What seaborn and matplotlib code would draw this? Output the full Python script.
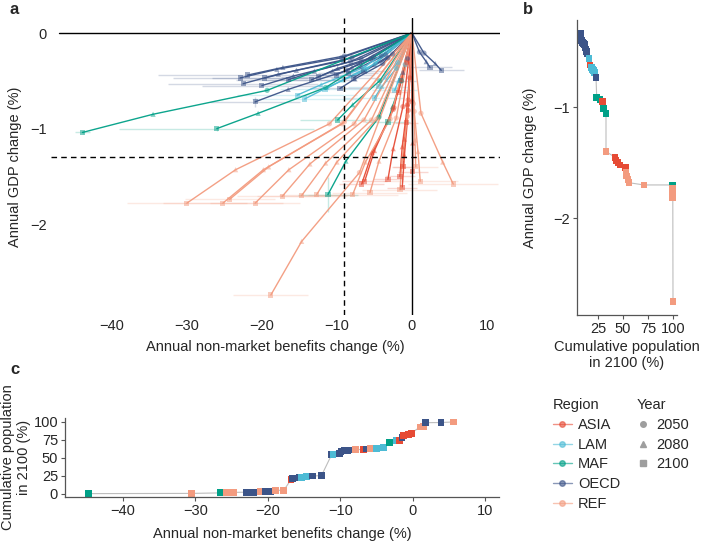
import numpy as np
import pandas as pd
import matplotlib
matplotlib.use('Agg')
import matplotlib.pyplot as plt
import seaborn as sns
from matplotlib.lines import Line2D

sns.set_style('white')
plt.rcParams['font.family'] = ['Liberation Sans', 'DejaVu Sans']
plt.rcParams['font.size'] = 10.5

regions = ['ASIA', 'LAM', 'MAF', 'OECD', 'REF']
colors = ['#E64B35', '#4DBBD5', '#00A087', '#3C5488', '#F39B7F']
palette = dict(zip(regions, colors))
years = [2050, 2080, 2100]

# ---- panel a: trajectories (start at 0,0 then 2050, 2080, 2100) ----
a_region = (['OECD'] * 17 + ['LAM'] * 6 + ['MAF'] * 5 + ['ASIA'] * 9 + ['REF'] * 14)
a_x2050 = [-9.0, -9.2, -8.2, -8.6, -8.0, -6.8, -5.5, -5.1, -4.1, -3.9, -3.5, -3.2, -2.6, -0.6, -9.4, 1.0, 1.6,
           -6.4, -6.0, -4.9, -1.9, -2.1, -0.9,
           -19.3, -11.5, -4.3, -4.4, -1.4,
           -2.5, -2.4, -1.2, -0.6, -0.5, 0.0, -0.3, -0.7, -0.5,
           -11.0, -9.3, -9.0, -7.7, -6.4, -5.4, -4.7, -2.9, -2.1, -0.6, 0.3, 1.2, -7.0, 0.2]
a_y2050 = [-0.24, -0.29, -0.30, -0.39, -0.26, -0.27, -0.27, -0.25, -0.24, -0.32, -0.23, -0.26, -0.22, -0.27, -0.26, -0.20, -0.21,
           -0.36, -0.38, -0.32, -0.31, -0.37, -0.33,
           -0.60, -0.57, -0.50, -0.88, -0.50,
           -0.80, -0.78, -0.77, -0.75, -0.81, -0.72, -0.47, -0.31, -0.70,
           -0.95, -0.95, -0.93, -0.95, -0.91, -0.91, -0.90, -0.90, -0.89, -0.87, -0.82, -0.84, -1.46, -0.74]
a_x2080 = [-17.2, -17.8, -15.8, -16.5, -15.4, -13.0, -10.6, -9.9, -8.0, -7.6, -6.7, -6.2, -5.0, -1.2, -18.0, 1.9, 3.1,
           -12.1, -11.3, -9.2, -3.6, -4.0, -1.8,
           -34.5, -20.5, -7.9, -8.8, -2.6,
           -5.3, -5.0, -2.5, -1.3, -1.0, 0.1, -0.6, -1.4, -1.0,
           -23.5, -19.8, -19.1, -16.4, -13.6, -11.5, -10.0, -6.2, -4.4, -1.3, 0.8, 4.1, -14.7, 0.4]
a_y2080 = [-0.36, -0.43, -0.45, -0.59, -0.39, -0.40, -0.40, -0.37, -0.36, -0.48, -0.35, -0.39, -0.33, -0.41, -0.38, -0.30, -0.32,
           -0.54, -0.57, -0.49, -0.46, -0.56, -0.50,
           -0.85, -0.84, -0.75, -1.34, -0.77,
           -1.25, -1.23, -1.21, -1.19, -1.28, -1.15, -0.74, -0.49, -1.11,
           -1.43, -1.43, -1.40, -1.43, -1.37, -1.36, -1.35, -1.35, -1.34, -1.31, -1.24, -1.35, -2.18, -1.12]
a_x2100 = [-21.9, -22.5, -20.0, -20.9, -19.6, -16.5, -13.4, -12.5, -10.1, -9.6, -8.5, -7.8, -6.4, -1.5, -22.9, 2.4, 3.9,
           -15.3, -14.3, -11.6, -4.5, -5.0, -2.3,
           -43.9, -26.0, -9.9, -11.2, -3.2,
           -6.7, -6.3, -3.2, -1.6, -1.3, 0.1, -0.7, -1.8, -1.2,
           -30.0, -25.2, -24.3, -20.9, -17.3, -14.7, -12.7, -7.9, -5.6, -1.6, 1.1, 5.5, -18.8, 0.5]
a_y2100 = [-0.44, -0.53, -0.55, -0.72, -0.47, -0.49, -0.49, -0.46, -0.44, -0.58, -0.42, -0.47, -0.40, -0.50, -0.47, -0.36, -0.39,
           -0.65, -0.69, -0.59, -0.56, -0.68, -0.60,
           -1.04, -1.00, -0.91, -1.69, -0.93,
           -1.58, -1.55, -1.53, -1.50, -1.62, -1.45, -0.94, -0.62, -1.40,
           -1.78, -1.78, -1.74, -1.78, -1.71, -1.70, -1.69, -1.69, -1.67, -1.64, -1.55, -1.58, -2.74, -1.40]
a_xerr = [12, 10, 8, 6, 7, 7, 6, 5, 5, 4, 4, 3, 3, 2, 9, 3, 3,
          8, 7, 6, 4, 4, 3,
          1, 13, 5, 4, 3,
          3, 3, 2, 2, 2, 2, 1.5, 1.5, 1.5,
          8, 8, 6, 6, 6, 6, 5, 6, 5, 5, 5, 6, 5, 3]
a_yerr = [0, 0, 0, 0.05, 0, 0, 0, 0, 0, 0, 0, 0, 0, 0, 0, 0, 0,
          0, 0, 0, 0, 0, 0,
          0.02, 0.02, 0, 0.18, 0,
          0, 0, 0, 0, 0, 0, 0, 0, 0,
          0, 0, 0, 0, 0, 0, 0, 0, 0, 0, 0, 0, 0, 0]
start_x, start_y = 0.0, 0.0
mean_nonmarket, mean_gdp = -9.07, -1.30

# ---- panel b: 2100 GDP change vs cumulative population ----
b_pop = [7.3, 8.0, 8.5, 9.5, 10.5, 11.5, 12.0, 13.0, 13.5, 14.0,
         16.0, 17.0, 18.5, 19.5, 20.5, 21.5, 23.0,
         23.7, 27.0, 29.7, 30.3, 33.0,
         33.0, 42.0, 43.0, 45.0, 47.0, 52.5,
         53.0, 53.5, 55.0, 56.0, 71.0,
         99.7, 99.7, 99.7, 99.8, 99.8, 100.0]
b_gdp = [-0.34, -0.38, -0.40, -0.42, -0.43, -0.44, -0.46, -0.48, -0.50, -0.52,
         -0.56, -0.62, -0.64, -0.66, -0.67, -0.69, -0.73,
         -0.91, -0.93, -0.95, -1.01, -1.06,
         -1.40, -1.45, -1.48, -1.50, -1.52, -1.54,
         -1.59, -1.62, -1.65, -1.68, -1.70,
         -1.70, -1.73, -1.76, -1.79, -1.81, -2.75]
b_region = (['OECD'] * 10 + ['LAM', 'ASIA', 'LAM', 'LAM', 'LAM', 'LAM', 'OECD']
            + ['MAF', 'MAF', 'ASIA', 'MAF', 'MAF']
            + ['REF', 'ASIA', 'ASIA', 'ASIA', 'ASIA', 'ASIA']
            + ['REF'] * 5 + ['MAF'] + ['REF'] * 5)

# ---- panel c: cumulative population vs 2100 non-market change ----
c_nonmarket = [-44.8, -30.5, -26.6, -25.7, -24.7, -22.9, -22.0, -21.3, -21.0, -20.4, -19.6, -19.0, -17.8,
               -16.8, -16.6, -15.7, -15.4, -14.7, -13.8, -12.6,
               -11.2, -11.0, -10.1, -9.9, -9.5, -9.0, -8.5, -8.0, -7.9, -6.8, -6.4, -5.8, -5.0, -4.0,
               -3.2, -2.3, -1.8, -1.5, -1.3, -1.0, -0.6, -0.2, 1.0, 1.5, 1.8, 3.9, 5.6]
c_pop = [0.5, 0.8, 1.5, 2.0, 2.2, 2.5, 2.6, 2.8, 3.0, 3.5, 3.7, 5.0, 5.2,
         20.0, 21.5, 22.5, 23.3, 24.0, 25.0, 25.5,
         54.6, 55.0, 56.0, 59.5, 60.0, 60.5, 61.0, 61.0, 61.5, 62.0, 62.5, 63.0, 63.5, 64.5,
         71.0, 74.0, 74.5, 78.0, 81.0, 82.0, 83.0, 84.5, 93.0, 93.5, 99.0, 99.2, 100.0]
c_region = (['MAF', 'REF', 'MAF', 'REF', 'REF', 'OECD', 'OECD', 'OECD', 'REF', 'OECD', 'OECD', 'REF', 'REF',
             'ASIA', 'OECD', 'OECD', 'LAM', 'LAM', 'OECD', 'OECD',
             'OECD', 'LAM', 'OECD', 'OECD', 'OECD', 'OECD', 'OECD', 'OECD', 'REF', 'ASIA', 'OECD', 'REF', 'LAM', 'LAM',
             'MAF', 'LAM', 'ASIA', 'OECD', 'ASIA', 'ASIA', 'ASIA', 'ASIA', 'REF', 'REF', 'OECD', 'OECD', 'REF'])

# long tables for seaborn
rows = []
for i, reg in enumerate(a_region):
    rows.append((i, reg, 2020, start_x, start_y))
    rows.append((i, reg, 2050, a_x2050[i], a_y2050[i]))
    rows.append((i, reg, 2080, a_x2080[i], a_y2080[i]))
    rows.append((i, reg, 2100, a_x2100[i], a_y2100[i]))
paths = pd.DataFrame(rows, columns=['id', 'region', 'year', 'x', 'y'])
marks = paths[paths['year'] > 2020]

df_b = pd.DataFrame({'pop': b_pop, 'gdp': b_gdp, 'region': b_region})
df_c = pd.DataFrame({'nm': c_nonmarket, 'pop': c_pop, 'region': c_region})

W, H = 705, 543
fig = plt.figure(figsize=(W / 100, H / 100), dpi=100)

def box(l, t, r, b):
    return [l / W, 1 - b / H, (r - l) / W, (b - t) / H]

ax_a = fig.add_axes(box(51, 18, 500, 315))
ax_b = fig.add_axes(box(577, 20, 677, 315))
ax_c = fig.add_axes(box(65, 418, 499, 497))

# ---- panel a ----
for i, reg in enumerate(a_region):
    ax_a.errorbar(a_x2100[i], a_y2100[i], xerr=a_xerr[i], yerr=a_yerr[i] if a_yerr[i] else None,
                  fmt='none', ecolor=palette[reg], alpha=0.22, lw=1.0, capsize=0, zorder=1)
sns.lineplot(data=paths, x='x', y='y', hue='region', units='id', estimator=None, sort=False,
             palette=palette, lw=1, alpha=0.95, legend=False, ax=ax_a, zorder=2)
sns.scatterplot(data=marks, x='x', y='y', hue='region', style='year',
                markers={2050: 'o', 2080: '^', 2100: 's'}, palette=palette,
                s=14, alpha=0.5, linewidth=0, legend=False, ax=ax_a, zorder=3)
ax_a.axhline(0, xmin=8 / 449, color='black', lw=1, zorder=5)
ax_a.axvline(0, color='black', lw=1, zorder=5)
ax_a.axhline(mean_gdp, color='black', lw=1, ls=(0, (4, 3)), zorder=5)
ax_a.axvline(mean_nonmarket, color='black', lw=1, ls=(0, (4, 3)), zorder=5)
ax_a.set_xlim(-48.1, 11.73)
ax_a.set_ylim(-2.95, 0.157)
ax_a.set_xticks([-40, -30, -20, -10, 0, 10])
ax_a.set_yticks([0, -1, -2])
for s in ax_a.spines.values():
    s.set_visible(False)
ax_a.tick_params(length=0, pad=3, labelsize=10.5)
ax_a.set_xlabel('Annual non-market benefits change (%)', fontsize=10.5)
ax_a.set_ylabel('Annual GDP change (%)', fontsize=10.5)
ax_a.xaxis.set_label_coords(0.5, -0.085)
ax_a.yaxis.set_label_coords(-0.065, 0.5)

# ---- panel b ----
sns.lineplot(data=df_b, x='pop', y='gdp', sort=False, estimator=None, color='#BDBDBD', lw=0.8, ax=ax_b, zorder=1)
sns.scatterplot(data=df_b, x='pop', y='gdp', hue='region', palette=palette, marker='s',
                s=24, linewidth=0, legend=False, ax=ax_b, zorder=2)
ax_b.set_xlim(4, 104)
ax_b.set_ylim(-2.87, -0.216)
ax_b.set_xticks([25, 50, 75, 100])
ax_b.set_yticks([-1, -2])
ax_b.set_xlabel('Cumulative population\nin 2100 (%)', fontsize=10.5)
ax_b.set_ylabel('Annual GDP change (%)', fontsize=10.5)
ax_b.xaxis.set_label_coords(0.5, -0.085)
ax_b.yaxis.set_label_coords(-0.40, 0.5)

# ---- panel c ----
sns.lineplot(data=df_c, x='nm', y='pop', sort=False, estimator=None, color='#BDBDBD', lw=0.8, ax=ax_c, zorder=1)
sns.scatterplot(data=df_c, x='nm', y='pop', hue='region', palette=palette, marker='s',
                s=24, linewidth=0, legend=False, ax=ax_c, zorder=2)
ax_c.set_xlim(-48, 11.9)
ax_c.set_ylim(-4.2, 105.5)
ax_c.set_xticks([-40, -30, -20, -10, 0, 10])
ax_c.set_yticks([0, 25, 50, 75, 100])
ax_c.set_xlabel('Annual non-market benefits change (%)', fontsize=10.5)
ax_c.set_ylabel('Cumulative population\nin 2100 (%)', fontsize=10.5)
ax_c.xaxis.set_label_coords(0.5, -0.38)
ax_c.yaxis.set_label_coords(-0.078, 0.5)

for ax in (ax_b, ax_c):
    sns.despine(ax=ax)
    for s in ('left', 'bottom'):
        ax.spines[s].set_color('#555555')
        ax.spines[s].set_linewidth(0.9)
    ax.tick_params(length=3, width=0.8, color='#555555', pad=2, labelsize=10.5, direction='out',
                   bottom=True, left=True)

# ---- legends ----
reg_handles = [Line2D([0], [0], color=palette[r], lw=1, marker='o', markersize=4, alpha=0.6) for r in regions]
leg1 = fig.legend(handles=reg_handles, labels=regions, title='Region', loc='upper left',
                  bbox_to_anchor=(553 / W, 1 - 398 / H), frameon=False, alignment='left',
                  borderpad=0, borderaxespad=0, handlelength=1.3, handletextpad=0.4,
                  labelspacing=0.4, fontsize=10.5, title_fontsize=10.5)
yr_handles = [Line2D([0], [0], ls='none', marker=m, color='#9E9E9E', markersize=4) for m in ('o', '^', 's')]
leg2 = fig.legend(handles=yr_handles, labels=[str(y) for y in years], title='Year', loc='upper left',
                  bbox_to_anchor=(637 / W, 1 - 398 / H), frameon=False, alignment='left',
                  borderpad=0, borderaxespad=0, handlelength=0.8, handletextpad=0.5,
                  labelspacing=0.4, fontsize=10.5, title_fontsize=10.5)

for lab, x, y in (('a', 10, 10), ('b', 523, 10), ('c', 10, 370)):
    fig.text(x / W, 1 - y / H, lab, fontsize=12, fontweight='bold', va='center', ha='left')

fig.savefig('out.png', dpi=100)
